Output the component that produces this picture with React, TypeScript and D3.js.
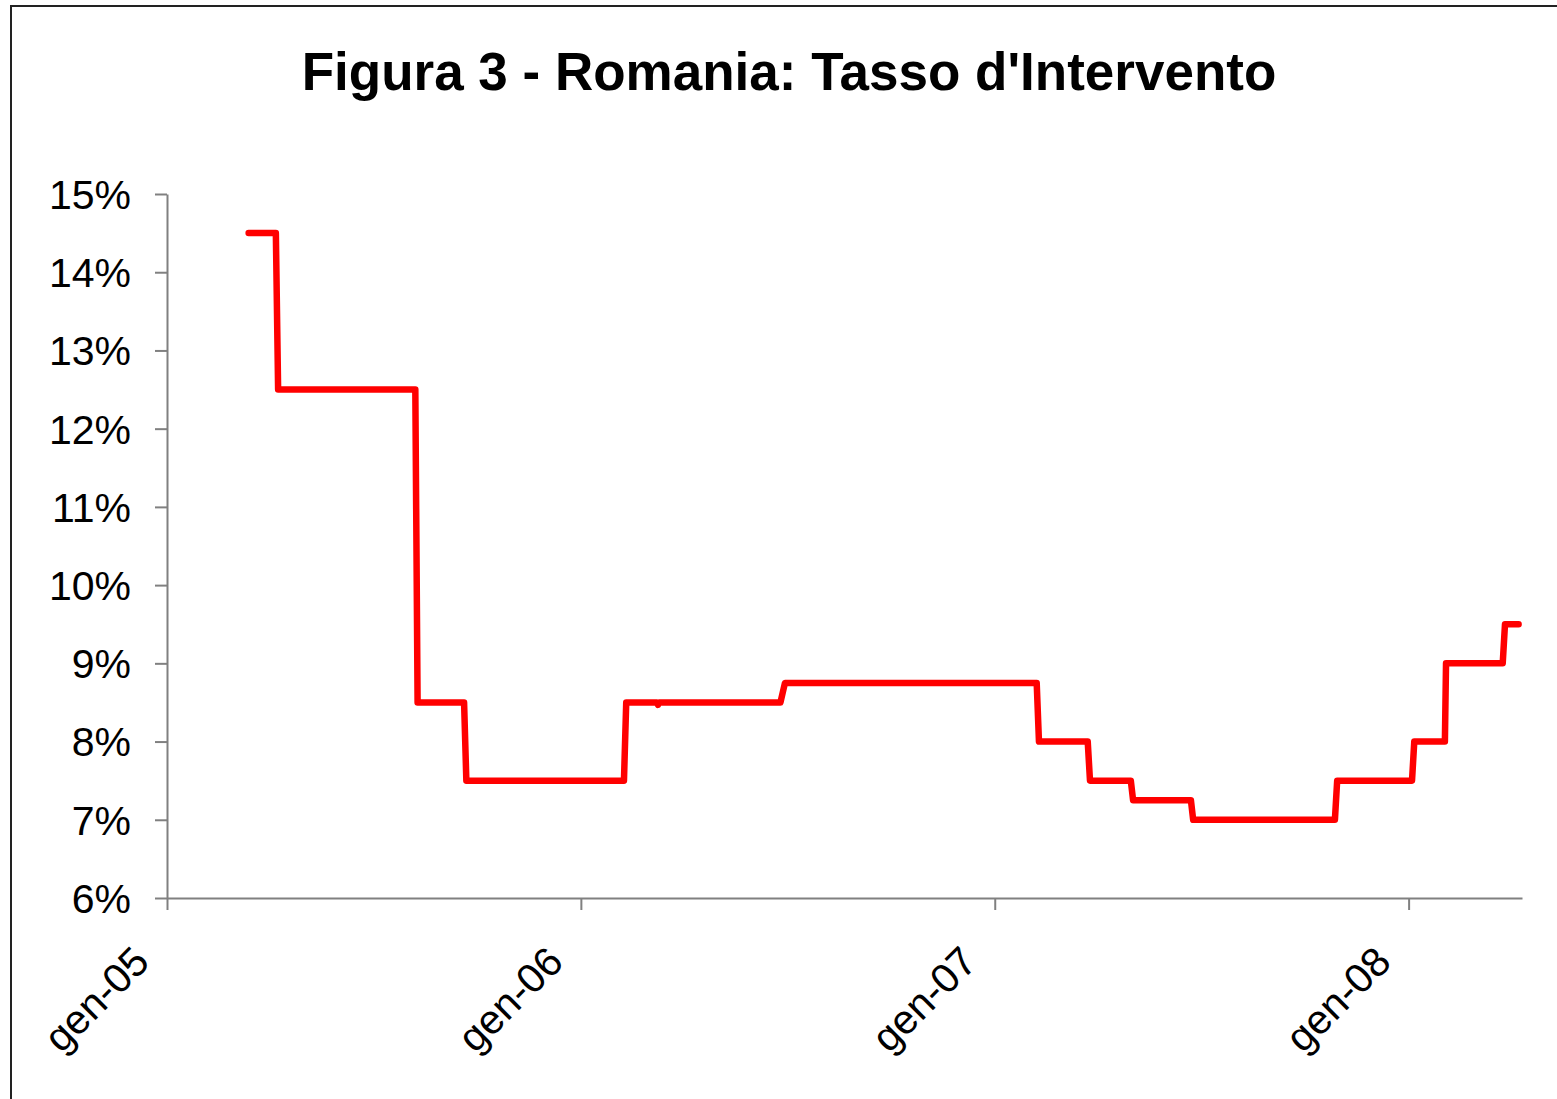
import React, { useEffect, useRef } from "react";
import * as d3 from "d3";

// observations at each change of the rate (last day of old rate, first day of new)
const obsDates = [
  "2005-03-14", "2005-04-07", "2005-04-09", "2005-08-08", "2005-08-10",
  "2005-09-20", "2005-09-22", "2006-02-08", "2006-02-10", "2006-03-09",
  "2006-03-10", "2006-03-11", "2006-06-26", "2006-06-30", "2007-02-07",
  "2007-02-09", "2007-03-24", "2007-03-26", "2007-05-01", "2007-05-03",
  "2007-06-23", "2007-06-25", "2007-10-28", "2007-10-30", "2008-01-04",
  "2008-01-06", "2008-02-02", "2008-02-03", "2008-03-24", "2008-03-26",
  "2008-04-07"
];
const rates = [
  14.5, 14.5, 12.5, 12.5, 8.5,
  8.5, 7.5, 7.5, 8.5, 8.5,
  8.47, 8.5, 8.5, 8.75, 8.75,
  8, 8, 7.5, 7.5, 7.25,
  7.25, 7, 7, 7.5, 7.5,
  8, 8, 9, 9, 9.5,
  9.5
];
const xTickDates = ["2005-01-01", "2006-01-01", "2007-01-01", "2008-01-01"];
const yTicks = [6, 7, 8, 9, 10, 11, 12, 13, 14, 15];
const title = "Figura 3 - Romania: Tasso d'Intervento";

export default function App() {
  const ref = useRef<SVGSVGElement | null>(null);

  useEffect(() => {
    const svg = d3.select(ref.current);
    svg.selectAll("*").remove();
    const parse = d3.timeParse("%Y-%m-%d");
    const font = "'Liberation Sans', Arial, sans-serif";

    const data = obsDates.map((d, i) => ({ date: parse(d) as Date, rate: rates[i] }));

    // frame
    svg.append("rect")
      .attr("x", 11).attr("y", 6)
      .attr("width", 1700).attr("height", 1300)
      .attr("fill", "none").attr("stroke", "#222").attr("stroke-width", 2);

    svg.append("text")
      .attr("x", 789).attr("y", 90)
      .attr("text-anchor", "middle")
      .attr("font-family", font)
      .attr("font-weight", "bold")
      .attr("font-size", "53px")
      .text(title);

    const x = d3.scaleTime()
      .domain([parse("2005-01-01") as Date, parse("2008-04-10") as Date])
      .range([167, 1522]);
    const y = d3.scaleLinear().domain([6, 15]).range([898, 194]);

    const xAxis = d3.axisBottom(x)
      .tickValues(xTickDates.map((d) => parse(d) as Date))
      .tickSize(12)
      .tickSizeOuter(0)
      .tickFormat((d) => "gen-" + d3.timeFormat("%y")(d as Date));

    const gx = svg.append("g")
      .attr("transform", "translate(0,898)")
      .call(xAxis);
    gx.select(".domain").attr("stroke", "#808080").attr("stroke-width", 2);
    gx.selectAll(".tick line").attr("stroke", "#808080").attr("stroke-width", 2);
    gx.selectAll(".tick text")
      .attr("font-family", font)
      .attr("font-size", "41px")
      .attr("fill", "#000")
      .attr("text-anchor", "end")
      .attr("y", 0).attr("dy", 0)
      .attr("transform", "translate(-16,66) rotate(-45)");

    const yAxis = d3.axisLeft(y)
      .tickValues(yTicks)
      .tickSize(12)
      .tickSizeOuter(0)
      .tickFormat((d) => d + "%");

    const gy = svg.append("g")
      .attr("transform", "translate(167,0)")
      .call(yAxis);
    gy.select(".domain").attr("stroke", "#808080").attr("stroke-width", 2);
    gy.selectAll(".tick line").attr("stroke", "#808080").attr("stroke-width", 2);
    gy.selectAll(".tick text")
      .attr("font-family", font)
      .attr("font-size", "41px")
      .attr("fill", "#000")
      .attr("x", -36)
      .attr("dy", "0.35em");

    const line = d3.line<{ date: Date; rate: number }>()
      .x((d) => x(d.date))
      .y((d) => y(d.rate));

    svg.append("path")
      .datum(data)
      .attr("d", line)
      .attr("fill", "none")
      .attr("stroke", "#ff0000")
      .attr("stroke-width", 6.5)
      .attr("stroke-linejoin", "round")
      .attr("stroke-linecap", "round");
  }, []);

  return (
    <svg
      ref={ref}
      width={1557}
      height={1099}
      style={{ position: "absolute", left: 0, top: 0, background: "#fff" }}
    />
  );
}
